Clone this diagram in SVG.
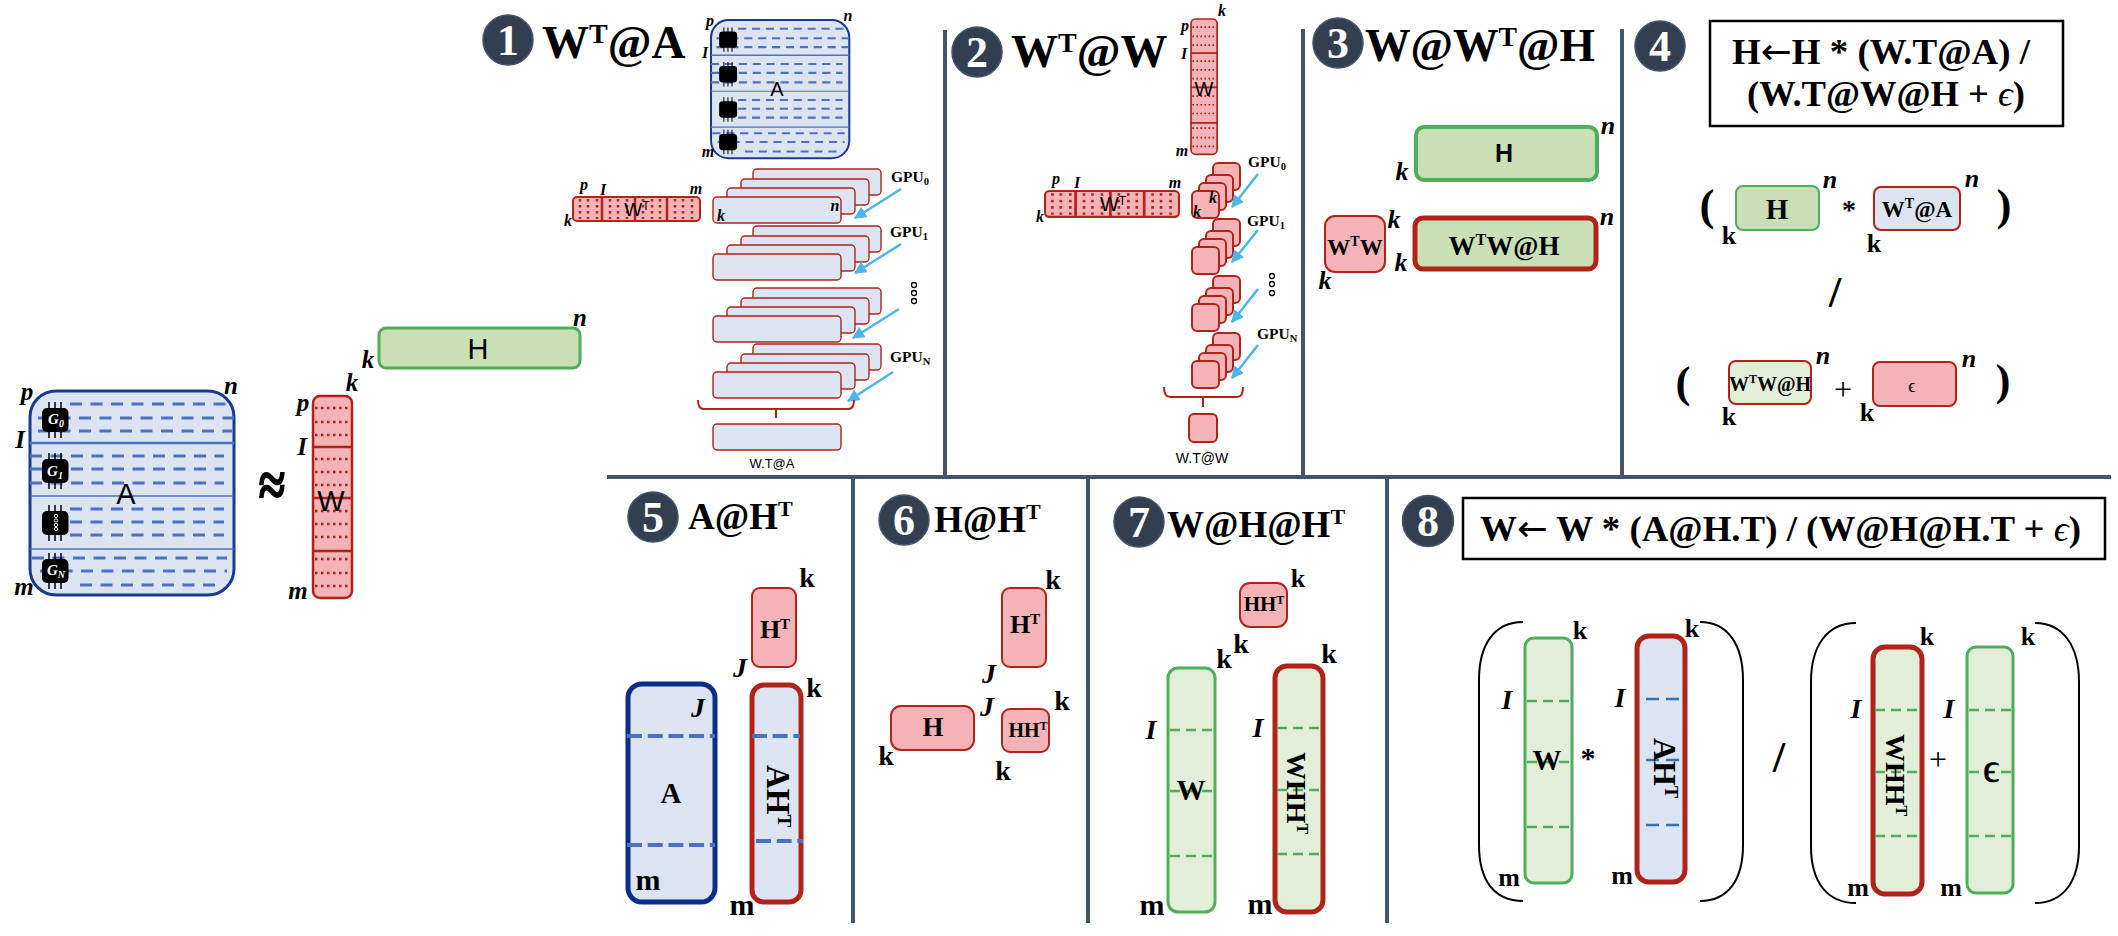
<svg xmlns="http://www.w3.org/2000/svg" width="2118" height="936" viewBox="0 0 2118 936">
<style>
text{font-family:"Liberation Serif","DejaVu Serif",serif;fill:#000}
.sans{font-family:"Liberation Sans","DejaVu Sans",sans-serif;font-weight:400}
.b{font-weight:700}
.m{text-anchor:middle}
.bi{font-weight:700;font-style:italic;text-anchor:middle}
.bu{font-weight:700;text-anchor:middle}
.title{font-weight:700;font-size:47px}
.num{font-weight:700;font-size:44px;fill:#fff;text-anchor:middle}
.circ{fill:#333f50;stroke:#44546a;stroke-width:1.5}
.div{stroke:#44546a;stroke-width:4;fill:none}
.blue{fill:#dce3f1}
.pink{fill:#f4b3b6;stroke:#b02318;stroke-width:2}
.lb{fill:#dce3f1;stroke:#b02318;stroke-width:1.4}
.gr{fill:#c9dfb5;stroke:#4fad5b}
.lg{fill:#e3eed9;stroke:#4fad5b;stroke-width:3}
.lgr{fill:#e3eed9;stroke:#b02318;stroke-width:5}
.lbr{fill:#dce3f1;stroke:#b02318;stroke-width:5}
.dg{stroke:#4fad5b;stroke-width:2.5;stroke-dasharray:10 6;fill:none}
.db{stroke:#4a72c4;stroke-width:4;stroke-dasharray:15 5.7;fill:none}
.db2{stroke:#2e75b6;stroke-width:2.5;stroke-dasharray:13 7;fill:none}
.dA{stroke:#4a72c4;stroke-width:3;stroke-dasharray:12 8.5;fill:none}
.sA{stroke:#4a72c4;fill:none}
.dot{stroke:#b02318;stroke-width:2.5;stroke-dasharray:2.5 3.5;fill:none}
.sr{stroke:#b02318;stroke-width:2.5;fill:none}
.arrow{stroke:#4bb5ec;stroke-width:2.5;fill:none;marker-end:url(#ah)}
.brace{stroke:#b02318;stroke-width:2;fill:none}
.par{stroke:#000;stroke-width:2;fill:none}
.ring{fill:#fff;stroke:#000;stroke-width:1.3}
.pin{stroke:#000;stroke-width:1.5}
.arr{font-family:"DejaVu Sans",sans-serif;font-weight:400}
.eps{font-weight:400;font-style:italic}
</style>
<defs>
<marker id="ah" viewBox="0 0 10 10" refX="9" refY="5" markerWidth="5" markerHeight="5" orient="auto"><path d="M0,0L10,5L0,10Z" fill="#4bb5ec"/></marker>
<g id="chip">
<path class="pin" d="M7,-6V30M13,-6V30M19,-6V30"/>
<rect width="26.5" height="24" rx="5" fill="#000"/>
</g>
<g id="matA">
<rect width="204" height="204" rx="26" class="blue" stroke="#1a3a8f" stroke-width="3"/>
<path class="sA" stroke-width="2.5" d="M0,52H204"/>
<path class="sA" stroke-width="1.5" d="M0,105H204M0,158H204"/>
<path class="dA" d="M40,13H196M8,27H204M8,40H202M0,65H194M0,78H194M0,92H194M40,118H194M40,131H194M40,144H194M2,167H197M10,180H197M50,194H185"/>
<use href="#chip" transform="translate(12,17)"/>
<use href="#chip" transform="translate(12,68)"/>
<use href="#chip" transform="translate(12,120)"/>
<use href="#chip" transform="translate(12,168)"/>
</g>
<g id="matW">
<rect width="39" height="202" rx="7" fill="#f4b3b6" stroke="#b02318" stroke-width="2.5"/>
<path class="sr" d="M0,51H39M0,102H39M0,155H39"/>
<path class="dot" d="M2,12H37M2,26H37M2,39H37M2,63H37M2,76H37M2,89H37M2,115H37M2,128H37M2,141H37M2,163H37M2,177H37M2,190H37"/>
</g>
<g id="matWT">
<rect width="127" height="24" rx="4" fill="#f4b3b6" stroke="#b02318" stroke-width="2"/>
<path class="sr" d="M29,0V24M62,0V24M94,0V24"/>
<path class="dot" stroke-width="2" d="M7,2V22M15,2V22M24,2V22M37,2V22M45,2V22M54,2V22M70,2V22M79,2V22M87,2V22M102,2V22M110,2V22M119,2V22"/>
</g>
<g id="stackBlue">
<rect x="40" y="-28" width="128" height="26" rx="4" class="lb"/>
<rect x="28" y="-18" width="128" height="26" rx="4" class="lb"/>
<rect x="14" y="-9" width="128" height="26" rx="4" class="lb"/>
<rect width="128" height="26" rx="4" class="lb" y="0"/>
</g>
<g id="stackPink">
<rect x="21" y="-28" width="27" height="27" rx="5" class="pink" stroke-width="1.5"/>
<rect x="14" y="-16" width="27" height="27" rx="5" class="pink" stroke-width="1.5"/>
<rect x="7" y="-8" width="27" height="27" rx="5" class="pink" stroke-width="1.5"/>
<rect width="27" height="27" rx="5" class="pink" stroke-width="1.5"/>
</g>
</defs>
<rect width="2118" height="936" fill="#fff"/>

<g id="dividers">
<path class="div" d="M607,477H2111M945,30V476M1303,29V476M1622,29V476M853,477V923M1088,477V923M1387,477V923"/>
</g>

<g id="node-A-main">
<use href="#matA" transform="translate(30,391)"/>
<text class="sans m" x="126" y="504" font-size="29">A</text>
<text x="56" y="424" class="bi" font-size="15" style="fill:#fff">G<tspan font-size="10" dy="3">0</tspan></text>
<text x="55" y="476" class="bi" font-size="15" style="fill:#fff">G<tspan font-size="10" dy="3">1</tspan></text>
<g fill="none" stroke="#fff" stroke-width="1"><circle cx="56" cy="516" r="1.7"/><circle cx="56" cy="520.5" r="1.7"/><circle cx="56" cy="525" r="1.7"/><circle cx="56" cy="529" r="1.7"/></g>
<text x="56" y="575" class="bi" font-size="15" style="fill:#fff">G<tspan font-size="10" dy="3">N</tspan></text>
<text class="bi" x="27" y="400" font-size="25">p</text><text class="bi" x="231" y="394" font-size="25">n</text><text class="bi" x="20" y="448" font-size="25">I</text><text class="bi" x="24" y="595" font-size="25">m</text>
</g>
<g id="approx"><text class="bu" transform="translate(272,506) scale(1,1.3)" font-size="48" stroke="#000" stroke-width="1.2">≈</text></g>
<g id="node-W-main">
<use href="#matW" transform="translate(313,396)"/>
<text class="sans m" x="331" y="511" font-size="29">W</text>
<text class="bi" x="352" y="391" font-size="25">k</text><text class="bi" x="303" y="411" font-size="25">p</text><text class="bi" x="302" y="455" font-size="25">I</text><text class="bi" x="298" y="599" font-size="25">m</text>
</g>
<g id="node-H-main">
<rect x="379" y="328" width="201" height="40" rx="7" class="gr" stroke-width="3"/>
<text class="sans m" x="478" y="359" font-size="29">H</text>
<text class="bi" x="368" y="368" font-size="25">k</text><text class="bi" x="580" y="326" font-size="25">n</text>
</g>

<g id="section-1">
<circle cx="508" cy="40" r="25" class="circ"/><text class="num" x="508" y="55">1</text>
<text class="title" x="542" y="58">W<tspan font-size="28" dy="-15">T</tspan><tspan dy="15">@A</tspan></text>
<g id="node-A-1"><use href="#matA" transform="translate(711,20) scale(.678)"/>
<text class="sans m" x="777" y="96" font-size="20">A</text>
<text class="bi" x="710" y="26" font-size="16">p</text><text class="bi" x="848" y="21" font-size="16">n</text><text class="bi" x="705" y="58" font-size="16">I</text><text class="bi" x="708" y="157" font-size="16">m</text></g>
<g id="node-WT-1"><use href="#matWT" transform="translate(573,197)"/>
<text class="sans m" x="637" y="216" font-size="19">W<tspan font-size="12" dy="-6">T</tspan></text>
<text class="bi" x="584" y="190" font-size="16">p</text><text class="bi" x="603" y="195" font-size="16">I</text><text class="bi" x="696" y="194" font-size="16">m</text><text class="bi" x="568" y="226" font-size="16">k</text></g>
<g id="node-stack-1a"><use href="#stackBlue" transform="translate(713,197)"/><text class="bi" x="721" y="221" font-size="16">k</text><text class="bi" x="835" y="211" font-size="16">n</text></g>
<g id="node-stack-1b"><use href="#stackBlue" transform="translate(713,254)"/></g>
<g id="node-stack-1c"><use href="#stackBlue" transform="translate(713,316)"/></g>
<g id="node-stack-1d"><use href="#stackBlue" transform="translate(713,372)"/></g>
<g id="gpu-labels-1">
<text class="b" x="891" y="182" font-size="15.5">GPU<tspan font-size="10.5" dy="3">0</tspan></text>
<text class="b" x="890" y="237" font-size="15.5">GPU<tspan font-size="10.5" dy="3">1</tspan></text>
<text class="b" x="890" y="362" font-size="15.5">GPU<tspan font-size="10.5" dy="3">N</tspan></text>
</g>
<g id="dots-1"><circle class="ring" cx="914" cy="285" r="2.5"/><circle class="ring" cx="914" cy="293" r="2.5"/><circle class="ring" cx="914" cy="301" r="2.5"/></g>
<g id="node-result-1"><rect x="713" y="424" width="128" height="26" rx="4" class="lb"/><text class="sans m" x="772" y="468" font-size="13">W.T@A</text></g>
</g>

<g id="section-2">
<circle cx="977" cy="52" r="25" class="circ"/><text class="num" x="977" y="67">2</text>
<text class="title" x="1011" y="67">W<tspan font-size="28" dy="-15">T</tspan><tspan dy="15">@W</tspan></text>
<g id="node-W-2"><use href="#matW" transform="translate(1191,19) scale(.67)"/>
<text class="sans m" x="1204" y="96" font-size="20">W</text>
<text class="bi" x="1222" y="16" font-size="16">k</text><text class="bi" x="1185" y="31" font-size="16">p</text><text class="bi" x="1184" y="59" font-size="16">I</text><text class="bi" x="1182" y="156" font-size="16">m</text></g>
<g id="node-WT-2"><use href="#matWT" transform="translate(1045,191) scale(1.055,1.08)"/>
<text class="sans m" x="1113" y="211" font-size="20">W<tspan font-size="12" dy="-6">T</tspan></text>
<text class="bi" x="1056" y="184" font-size="16">p</text><text class="bi" x="1077" y="188" font-size="16">I</text><text class="bi" x="1175" y="188" font-size="16">m</text><text class="bi" x="1040" y="222" font-size="16">k</text></g>
<g id="node-stack-2a"><use href="#stackPink" transform="translate(1192,191)"/><text class="bi" x="1197" y="217" font-size="16">k</text><text class="bi" x="1213" y="203" font-size="16">k</text></g>
<g id="node-stack-2b"><use href="#stackPink" transform="translate(1192,247)"/></g>
<g id="node-stack-2c"><use href="#stackPink" transform="translate(1192,304)"/></g>
<g id="node-stack-2d"><use href="#stackPink" transform="translate(1192,361)"/></g>
<g id="gpu-labels-2">
<text class="b" x="1248" y="167" font-size="15.5">GPU<tspan font-size="10.5" dy="3">0</tspan></text>
<text class="b" x="1247" y="226" font-size="15.5">GPU<tspan font-size="10.5" dy="3">1</tspan></text>
<text class="b" x="1257" y="339" font-size="15.5">GPU<tspan font-size="10.5" dy="3">N</tspan></text>
</g>
<g id="dots-2"><circle class="ring" cx="1272" cy="276" r="2.5"/><circle class="ring" cx="1272" cy="284" r="2.5"/><circle class="ring" cx="1272" cy="293" r="2.5"/></g>
<g id="node-result-2"><rect x="1189" y="414" width="28" height="28" rx="5" class="pink" stroke-width="1.5"/><text class="sans m" x="1202" y="463" font-size="14">W.T@W</text></g>
</g>

<g id="section-3">
<circle cx="1338" cy="43" r="25" class="circ"/><text class="num" x="1338" y="58">3</text>
<text class="title" x="1365" y="61" style="font-size:46px" textLength="230" lengthAdjust="spacingAndGlyphs">W@W<tspan font-size="28" dy="-15">T</tspan><tspan dy="15">@H</tspan></text>
<g id="node-H-3"><rect x="1416" y="127" width="181" height="53" rx="8" class="gr" stroke-width="4"/><text class="m b" x="1504" y="162" font-size="25" style="font-family:'Liberation Sans',sans-serif">H</text>
<text class="bi" x="1402" y="180" font-size="26">k</text><text class="bi" x="1608" y="134" font-size="26">n</text></g>
<g id="node-WTW-3"><rect x="1325" y="216" width="60" height="56" rx="10" class="pink" stroke-width="2.5"/><text class="bu" x="1355" y="255" font-size="23">W<tspan font-size="14" dy="-9">T</tspan><tspan dy="9">W</tspan></text>
<text class="bi" x="1394" y="228" font-size="26">k</text><text class="bi" x="1325" y="289" font-size="26">k</text></g>
<g id="node-WTWH-3"><rect x="1415" y="218" width="181" height="51" rx="8" fill="#c9dfb5" stroke="#b02318" stroke-width="5"/><text class="bu" x="1504" y="255" font-size="27">W<tspan font-size="16" dy="-10">T</tspan><tspan dy="10">W@H</tspan></text>
<text class="bi" x="1401" y="271" font-size="26">k</text><text class="bi" x="1607" y="225" font-size="26">n</text></g>
</g>

<g id="section-4">
<circle cx="1660" cy="46" r="25" class="circ"/><text class="num" x="1660" y="61">4</text>
<g id="formula-4"><rect x="1710" y="21" width="353" height="105" fill="#fff" stroke="#000" stroke-width="2.5"/>
<text class="b" x="1732" y="64" font-size="36" textLength="298" lengthAdjust="spacingAndGlyphs">H<tspan class="arr">←</tspan>H * (W.T@A) /</text>
<text class="b" x="1747" y="106" font-size="36" textLength="278" lengthAdjust="spacingAndGlyphs">(W.T@W@H + <tspan class="eps">ϵ</tspan>)</text></g>
<text class="bu" x="1707" y="220" font-size="45">(</text><text class="bu" x="2004" y="220" font-size="45">)</text>
<g id="node-H-4"><rect x="1736" y="186" width="83" height="44" rx="7" class="gr" stroke-width="2"/><text class="bu" x="1777" y="219" font-size="29">H</text><text class="bu" x="1729" y="244" font-size="26">k</text><text class="bi" x="1830" y="188" font-size="26">n</text></g>
<text class="bu" x="1849" y="219" font-size="28">*</text>
<g id="node-WTA-4"><rect x="1874" y="187" width="86" height="43" rx="7" fill="#dce3f1" stroke="#b02318" stroke-width="2"/><text class="bu" x="1917" y="217" font-size="23">W<tspan font-size="14" dy="-9">T</tspan><tspan dy="9">@A</tspan></text><text class="bu" x="1874" y="252" font-size="26">k</text><text class="bi" x="1972" y="187" font-size="26">n</text></g>
<text class="bu" x="1835" y="307" font-size="45">/</text>
<text class="bu" x="1683" y="397" font-size="45">(</text><text class="bu" x="2003" y="395" font-size="45">)</text>
<g id="node-WTWH-4"><rect x="1729" y="361" width="82" height="43" rx="7" fill="#e3eed9" stroke="#b02318" stroke-width="2"/><text class="bu" x="1770" y="391" font-size="20">W<tspan font-size="12" dy="-8">T</tspan><tspan dy="8">W@H</tspan></text><text class="bu" x="1729" y="425" font-size="26">k</text><text class="bi" x="1823" y="364" font-size="26">n</text></g>
<text class="m" x="1843" y="400" font-size="32">+</text>
<g id="node-eps-4"><rect x="1873" y="362" width="83" height="44" rx="7" class="pink"/><text class="m" x="1912" y="392" font-size="18">ϵ</text><text class="bu" x="1867" y="421" font-size="26">k</text><text class="bi" x="1969" y="367" font-size="26">n</text></g>
</g>

<g id="section-5">
<circle cx="653" cy="517" r="25" class="circ"/><text class="num" x="653" y="532">5</text>
<text class="b" x="688" y="529" font-size="37">A@H<tspan font-size="22" dy="-13">T</tspan></text>
<g id="node-HT-5"><rect x="752" y="588" width="44" height="79" rx="8" class="pink"/><text class="bu" x="775" y="638" font-size="26">H<tspan font-size="15" dy="-9">T</tspan></text><text class="bu" x="807" y="587" font-size="28">k</text><text class="bi" x="740" y="677" font-size="28">J</text></g>
<g id="node-A-5"><rect x="628" y="684" width="87" height="218" rx="14" fill="#dce3f1" stroke="#0b2f88" stroke-width="5"/><path class="db" d="M627,736H715M627,845H715"/><text class="bu" x="671" y="803" font-size="29">A</text><text class="bi" x="698" y="717" font-size="28">J</text><text class="bu" x="648" y="890" font-size="30">m</text></g>
<g id="node-AHT-5"><rect x="752" y="685" width="49" height="217" rx="12" class="lbr"/><path class="db" d="M752,736H800M756,841H803"/><text class="bu" transform="translate(767,796) rotate(90)" font-size="33">AH<tspan font-size="19" dy="-11">T</tspan></text><text class="bu" x="814" y="697" font-size="28">k</text><text class="bu" x="742" y="915" font-size="30">m</text></g>
</g>

<g id="section-6">
<circle cx="904" cy="520" r="25" class="circ"/><text class="num" x="904" y="535">6</text>
<text class="b" x="934" y="532" font-size="37">H@H<tspan font-size="22" dy="-13">T</tspan></text>
<g id="node-HT-6"><rect x="1002" y="588" width="44" height="79" rx="8" class="pink"/><text class="bu" x="1025" y="633" font-size="26">H<tspan font-size="15" dy="-9">T</tspan></text><text class="bu" x="1053" y="589" font-size="28">k</text><text class="bi" x="989" y="683" font-size="28">J</text></g>
<g id="node-H-6"><rect x="891" y="706" width="83" height="44" rx="10" class="pink"/><text class="bu" x="933" y="736" font-size="27">H</text><text class="bi" x="987" y="716" font-size="28">J</text><text class="bu" x="886" y="765" font-size="28">k</text></g>
<g id="node-HHT-6"><rect x="1002" y="709" width="47" height="43" rx="8" class="pink"/><text class="bu" x="1028" y="737" font-size="20">HH<tspan font-size="12" dy="-7">T</tspan></text><text class="bu" x="1062" y="710" font-size="28">k</text><text class="bu" x="1003" y="780" font-size="28">k</text></g>
</g>

<g id="section-7">
<circle cx="1139" cy="522" r="25" class="circ"/><text class="num" x="1139" y="537">7</text>
<text class="b" x="1167" y="537" font-size="37">W@H@H<tspan font-size="22" dy="-13">T</tspan></text>
<g id="node-HHT-7"><rect x="1240" y="583" width="47" height="44" rx="10" class="pink"/><text class="bu" x="1264" y="611" font-size="21">HH<tspan font-size="12" dy="-7">T</tspan></text><text class="bu" x="1298" y="587" font-size="26">k</text></g>
<g id="node-W-7"><rect x="1168" y="668" width="47" height="244" rx="10" class="lg"/><path class="dg" d="M1170,730H1213M1170,791H1213M1170,856H1213"/><text class="bu" x="1191" y="800" font-size="29">W</text><text class="bu" x="1224" y="668" font-size="28">k</text><text class="bu" x="1241" y="653" font-size="28">k</text><text class="bi" x="1151" y="739" font-size="28">I</text><text class="bu" x="1152" y="915" font-size="30">m</text></g>
<g id="node-WHHT-7"><rect x="1275" y="666" width="48" height="246" rx="12" class="lgr"/><path class="dg" d="M1277,728H1321M1277,790H1321M1277,854H1321"/><text class="bu" transform="translate(1287,793) rotate(90)" font-size="28">WHH<tspan font-size="16" dy="-10">T</tspan></text><text class="bu" x="1329" y="663" font-size="28">k</text><text class="bi" x="1258" y="737" font-size="28">I</text><text class="bu" x="1260" y="914" font-size="30">m</text></g>
</g>

<g id="section-8">
<circle cx="1428" cy="521" r="25.5" class="circ"/><text class="num" x="1428" y="536">8</text>
<g id="formula-8"><rect x="1463" y="498" width="642" height="61" fill="#fff" stroke="#000" stroke-width="2.5"/>
<text class="b" x="1480" y="541" font-size="36" textLength="601" lengthAdjust="spacingAndGlyphs">W<tspan class="arr">←</tspan> W * (A@H.T) / (W@H@H.T + <tspan class="eps">ϵ</tspan>)</text></g>
<path class="par" d="M1523,622C1494,622 1479,645 1479,680V845C1479,880 1494,901 1523,901"/>
<path class="par" d="M1700,622C1728,622 1743,645 1743,680V845C1743,880 1728,901 1700,901"/>
<path class="par" d="M1856,623C1827,623 1811,646 1811,682V846C1811,882 1827,903 1856,903"/>
<path class="par" d="M2035,623C2063,623 2079,646 2079,682V846C2079,882 2063,903 2035,903"/>
<g id="node-W-8"><rect x="1525" y="638" width="47" height="245" rx="9" class="lg"/><path class="dg" d="M1527,701H1570M1527,762H1570M1527,827H1570"/><text class="bu" x="1547" y="770" font-size="29">W</text><text class="bu" x="1580" y="639" font-size="26">k</text><text class="bi" x="1507" y="709" font-size="28">I</text><text class="bu" x="1509" y="886" font-size="26">m</text></g>
<text class="bu" x="1588" y="768" font-size="30">*</text>
<g id="node-AHT-8"><rect x="1637" y="636" width="48" height="246" rx="12" class="lbr"/><path class="db2" d="M1646,699H1684M1646,760H1684M1646,825H1684"/><text class="bu" transform="translate(1654,768) rotate(90)" font-size="32">AH<tspan font-size="18" dy="-11">T</tspan></text><text class="bu" x="1692" y="637" font-size="26">k</text><text class="bi" x="1620" y="707" font-size="28">I</text><text class="bu" x="1622" y="884" font-size="26">m</text></g>
<text class="bu" x="1779" y="772" font-size="45">/</text>
<g id="node-WHHT-8"><rect x="1873" y="647" width="49" height="247" rx="12" class="lgr"/><path class="dg" d="M1875,710H1920M1875,772H1920M1875,836H1920"/><text class="bu" transform="translate(1886,775) rotate(90)" font-size="28">WHH<tspan font-size="16" dy="-10">T</tspan></text><text class="bu" x="1927" y="645" font-size="26">k</text><text class="bi" x="1856" y="718" font-size="28">I</text><text class="bu" x="1858" y="896" font-size="26">m</text></g>
<text class="m" x="1938" y="770" font-size="32">+</text>
<g id="node-eps-8"><rect x="1967" y="647" width="46" height="246" rx="9" class="lg"/><path class="dg" d="M1969,710H2011M1969,772H2011M1969,836H2011"/><text class="m" x="1991" y="782" font-size="40" stroke="#000" stroke-width=".6">ϵ</text><text class="bu" x="2028" y="645" font-size="26">k</text><text class="bi" x="1949" y="718" font-size="28">I</text><text class="bu" x="1951" y="896" font-size="26">m</text></g>
</g>

<g id="connectors">
<path class="arrow" d="M901,189L855,218"/>
<path class="arrow" d="M901,244L855,273"/>
<path class="arrow" d="M899,309L853,338"/>
<path class="arrow" d="M893,372L848,401"/>
<path class="arrow" d="M1258,174L1232,207"/>
<path class="arrow" d="M1258,230L1232,262"/>
<path class="arrow" d="M1258,289L1232,322"/>
<path class="arrow" d="M1258,345L1232,378"/>
<path class="brace" d="M698,400Q698,409 704,409H848Q854,409 854,400M776,409V418"/>
<path class="brace" d="M1164,387Q1164,397 1170,397H1237Q1243,397 1243,387M1203,397V407"/>
</g>
</svg>
